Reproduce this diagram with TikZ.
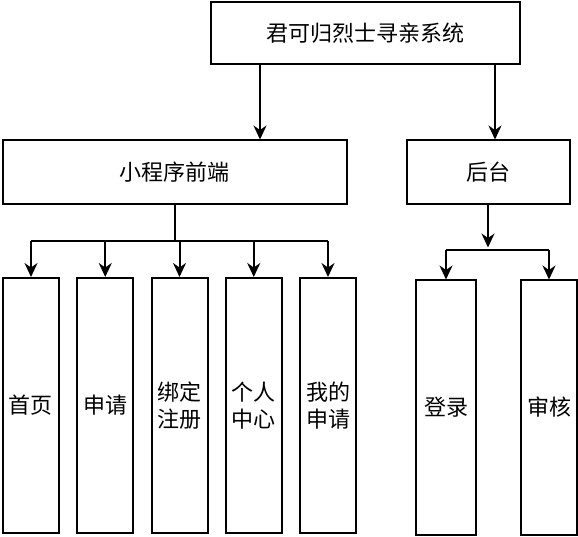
\documentclass[tikz,border=0pt]{standalone}
\usepackage{fontspec}
\usepackage{tikz}
\usetikzlibrary{positioning, arrows.meta, calc}
\newfontfamily\cjk{Noto Sans CJK SC}
\definecolor{ink}{HTML}{000000}
\tikzset{
  box/.style={draw=ink, line width=2pt, fill=white, text=ink,
    font=\cjk\fontsize{22}{27}\selectfont, align=center, inner sep=0pt},
  leaf/.style={box, minimum width=56pt, minimum height=255pt},
  link/.style={line width=2pt, color=ink},
  flow/.style={link, -{Stealth[length=14pt, width=13pt]}},
}

\begin{document}
\begin{tikzpicture}[x=1pt, y=-1pt, node distance=16.25pt and 16.25pt]
  \useasboundingbox (0,0) rectangle (578,537);
  \node[box, minimum width=309pt, minimum height=62pt] (sys) at (365,33.5) {君可归烈士寻亲系统};
  \node[box, minimum width=344pt, minimum height=64pt] (front) at (174.5,172.5) {小程序前端};
  \node[box, minimum width=163pt, minimum height=64pt] (back) at (488,172.5) {后台};
  \node[leaf] (home) at (31,405.5) {首页};
  \node[leaf, right=of home] (apply) {申请};
  \node[leaf, right=of apply] (bind) {绑定\\注册};
  \node[leaf, right=of bind] (me) {个人\\中心};
  \node[leaf, right=of me] (mine) {我的\\申请};
  \node[leaf, minimum width=60pt, minimum height=254pt] (login) at (446,407.5) {登录};
  \node[leaf, minimum height=254pt] (audit) at (549,407.5) {审核};
  \draw[flow] ([xshift=-105pt]sys.south) -- ([xshift=-105pt]sys.south |- front.north);
  \draw[flow] ([xshift=130pt]sys.south) -- ([xshift=130pt]sys.south |- back.north);
  % front end branches
  \draw[link] (front.south) -- ++(0,36) coordinate (fj);
  \draw[link] (home.north |- fj) -- (mine.north |- fj);
  \foreach \n in {home, apply, bind, me, mine}
    \draw[flow] (\n.north |- fj) -- (\n.north);
  % back end branches
  \draw[flow, line width=1.4pt] (back.south) -- ++(0,42);
  \coordinate (bj) at ([yshift=-45pt]back.south);
  \draw[link] (login.north |- bj) -- (audit.north |- bj);
  \foreach \n in {login, audit}
    \draw[flow] (\n.north |- bj) -- (\n.north);
\end{tikzpicture}
\end{document}
